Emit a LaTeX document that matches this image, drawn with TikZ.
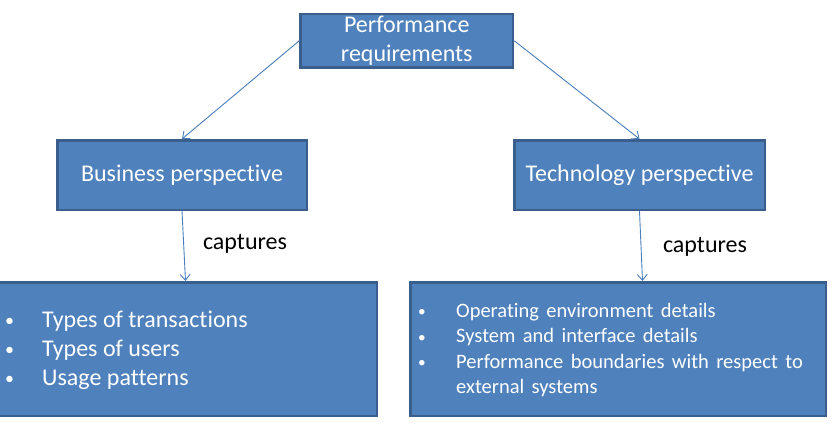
\documentclass[tikz,border=0pt]{standalone}
\usepackage{fontspec}
\setmainfont{Carlito}[Ligatures={NoCommon}]
\newfontfamily\widefont[WordSpace=1.6,Ligatures={NoCommon}]{Carlito}
\usetikzlibrary{arrows.meta}
\definecolor{boxfill}{HTML}{4F81BD}
\definecolor{boxline}{HTML}{3A5F8C}
\definecolor{arrcol}{HTML}{4A7EBB}
\newcommand{\smallbul}{\raisebox{0.5pt}{\scalebox{0.75}{•}}}
\tikzset{
  box/.style={draw=boxline, fill=boxfill, line width=2.5pt, inner sep=0pt, text=white,
     font=\fontsize{24}{29}\selectfont, align=center},
  arr/.style={draw=arrcol, line width=0.9pt, -{Straight Barb[length=6pt,width=10pt,line width=0.9pt]}},
  lbl/.style={font=\fontsize{24}{29}\selectfont, text=black, inner sep=0pt},
  bodytext/.style={text=white, inner sep=0pt, anchor=base west}
}
\begin{document}
\begin{tikzpicture}[x=1pt,y=-1pt]
\useasboundingbox (0,0) rectangle (837,429);
\node[box, minimum width=212.5pt, minimum height=53.5pt] (perf) at (406.75,40.75) {Performance\\requirements};
\node[box, minimum width=249.5pt, minimum height=69.5pt] (biz) at (182,175) {Business perspective};
\node[box, minimum width=250.5pt, minimum height=69.5pt] (tech) at (639.5,175) {Technology perspective};
\node[box, minimum width=396.75pt, minimum height=133.5pt] (bl) at (178.4,349) {};
\node[box, minimum width=415.5pt, minimum height=133.5pt] (br) at (618,349) {};
\node[bodytext, font=\fontsize{24}{29}\selectfont] (bltext) at (5,327)
 {\begin{tabular}[t]{@{}p{37pt}@{}l@{}}
  \smallbul&Types of transactions\\
  \smallbul&Types of users\\
  \smallbul&Usage patterns
  \end{tabular}};
\node[bodytext, font=\widefont\fontsize{20.5}{25.5}\selectfont] (brtext) at (418,317)
 {\begin{tabular}[t]{@{}p{38pt}@{}l@{}}
  \smallbul&Operating environment details\\
  \smallbul&System and interface details\\
  \smallbul&Performance boundaries with respect to\\
  &external systems
  \end{tabular}};
\draw[arr] (perf.west) -- (biz.north);
\draw[arr] (perf.east) -- (tech.north);
\draw[arr] (biz.south) -- ([xshift=3.5pt]biz.south |- bl.north);
\draw[arr] (tech.south) -- ([xshift=3pt]tech.south |- br.north);
\node[lbl] (cap1) at (245,244) {captures};
\node[lbl] (cap2) at (705,246.5) {captures};
\end{tikzpicture}
\end{document}
